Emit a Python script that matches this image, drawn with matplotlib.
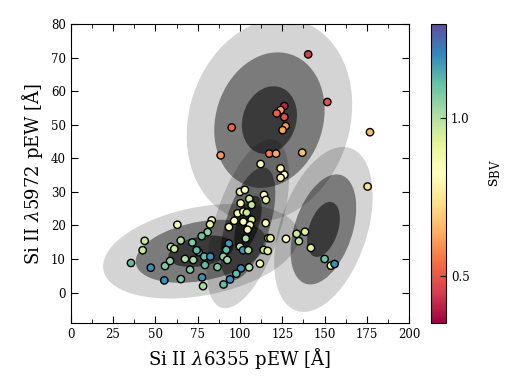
import numpy as np
import matplotlib
matplotlib.use('Agg')
import matplotlib.pyplot as plt
from matplotlib.patches import Ellipse
from matplotlib.colors import Normalize

plt.rcParams['font.family'] = 'DejaVu Serif'
plt.rcParams['mathtext.fontset'] = 'dejavuserif'

# pEW measurements (Si II 6355, Si II 5972) and s_BV colour
pew6355 = [140.3, 151.6, 126.2, 124.0, 121.7, 126.2, 127.0, 125.2, 95.1, 88.6,
           117.3, 121.3, 136.8, 176.8, 175.4, 112.2, 124.0, 126.2, 124.0,
           100.0, 102.9, 114.2, 115.3, 105.5, 106.9, 100.4, 98.6, 102.0, 104.0,
           96.6, 102.0, 106.9, 105.9, 104.5, 93.5, 115.2, 83.3, 82.3, 80.9,
           77.4, 103.4, 116.7, 118.0, 127.2, 100.0, 101.8, 104.9, 93.4, 91.9,
           114.0, 116.4, 90.1, 92.5, 86.7, 111.8, 105.4, 100.6, 97.8, 94.1, 90.3,
           35.6, 47.3, 55.3, 65.1, 43.7, 42.5, 55.7, 58.7, 59.2, 61.2, 65.0,
           63.0, 71.8, 67.5, 72.4, 70.5, 75.6, 74.4, 78.9, 82.5, 79.3, 77.6, 78.2,
           133.5, 138.4, 134.8, 141.9, 150.0, 153.7, 155.9]
pew5972 = [71.0, 56.8, 55.6, 54.4, 53.4, 52.3, 49.6, 48.4, 49.2, 40.9,
           41.4, 41.4, 41.7, 47.8, 31.6, 38.3, 37.0, 35.1, 34.2,
           30.0, 30.6, 29.1, 27.6, 27.9, 26.1, 26.6, 23.6, 24.1, 23.8,
           21.4, 21.1, 21.7, 20.1, 18.7, 19.5, 20.7, 21.5, 20.3, 18.0,
           16.8, 16.1, 16.2, 16.2, 16.0, 13.7, 12.6, 12.6, 14.6, 12.7,
           12.7, 12.4, 10.7, 9.7, 7.6, 8.6, 7.5, 7.2, 5.6, 3.9, 2.4,
           8.8, 7.4, 3.6, 4.0, 15.4, 12.6, 7.9, 9.4, 13.6, 13.0, 15.5,
           20.2, 14.9, 10.0, 9.7, 6.8, 12.0, 12.6, 10.7, 10.7, 8.2, 4.5, 1.9,
           17.5, 18.1, 15.3, 13.3, 10.0, 8.0, 8.5]
sbv = [0.45, 0.48, 0.40, 0.62, 0.52, 0.48, 0.60, 0.62, 0.53, 0.60,
       0.56, 0.63, 0.67, 0.66, 0.73, 0.85, 0.80, 0.82, 0.80,
       0.88, 0.84, 0.85, 0.90, 0.97, 0.98, 0.86, 0.88, 0.86, 0.97,
       0.84, 0.85, 0.93, 0.88, 0.86, 0.84, 0.86, 0.86, 0.92, 1.05,
       1.10, 1.02, 0.98, 0.92, 0.82, 1.00, 1.18, 1.00, 1.18, 1.12,
       0.98, 0.92, 1.06, 1.03, 1.08, 0.87, 1.00, 1.19, 1.12, 1.19, 1.12,
       1.12, 1.19, 1.19, 1.08, 0.97, 0.98, 1.08, 1.06, 1.00, 0.97, 1.00,
       0.86, 1.08, 1.00, 1.02, 1.07, 1.19, 1.12, 1.12, 1.19, 1.12, 1.19, 1.02,
       0.97, 0.93, 0.97, 0.93, 1.10, 0.88, 1.19]

# gaussian mixture components: mean x, mean y, sigma x, sigma y, correlation
gm_mx = [117.4, 149.3, 77.0, 104.7]
gm_my = [51.4, 18.8, 12.3, 20.5]
gm_sx = [16.3, 9.7, 19.3, 8.1]
gm_sy = [10.1, 8.2, 4.7, 8.4]
gm_rho = [0.15, 0.40, 0.32, 0.55]

fig = plt.figure(figsize=(5.2, 3.9), dpi=100)
ax = fig.add_axes([0.136, 0.1726, 0.651, 0.7654])
cax = fig.add_axes([0.829, 0.1726, 0.0288, 0.7654])

# 1, 2, 3 sigma ellipses, drawn from outside in
levels = [3, 2, 1]
alphas = [0.17, 0.42, 0.52]
for mx, my, sx, sy, r in zip(gm_mx, gm_my, gm_sx, gm_sy, gm_rho):
    cov = np.array([[sx**2, r*sx*sy], [r*sx*sy, sy**2]])
    vals, vecs = np.linalg.eigh(cov)
    order = vals.argsort()[::-1]
    vals, vecs = vals[order], vecs[:, order]
    angle = np.degrees(np.arctan2(vecs[1, 0], vecs[0, 0]))
    for n, a in zip(levels, alphas):
        e = Ellipse((mx, my), 2*n*np.sqrt(vals[0]), 2*n*np.sqrt(vals[1]),
                    angle=angle, facecolor='k', edgecolor='none', alpha=a, zorder=1)
        ax.add_patch(e)

norm = Normalize(vmin=0.35, vmax=1.30)
sc = ax.scatter(pew6355, pew5972, c=sbv, cmap='Spectral', norm=norm, s=28,
                edgecolors='k', linewidths=1.0, zorder=3)

ax.set_xlim(0, 200)
ax.set_ylim(-9, 80)
ax.set_xticks(np.arange(0, 201, 25))
ax.set_xticks(np.arange(0, 201, 12.5), minor=True)
ax.set_yticks(np.arange(0, 81, 10))
ax.tick_params(which='both', direction='in', top=True, right=True, labelsize=8.5)
ax.tick_params(which='major', length=5)
ax.tick_params(which='minor', length=3)
ax.set_xlabel(r'Si II $\lambda$6355 pEW [Å]', fontsize=13)
ax.set_ylabel(r'Si II $\lambda$5972 pEW [Å]', fontsize=13)

cb = fig.colorbar(sc, cax=cax, ticks=[0.5, 1.0])
cb.ax.tick_params(direction='in', labelsize=8.5, length=4)
cb.ax.set_yticklabels(['0.5', '1.0'])
cb.set_label(r'$\mathrm{s}_\mathrm{BV}$', fontsize=12, labelpad=12)

fig.savefig('out.png', dpi=100)
